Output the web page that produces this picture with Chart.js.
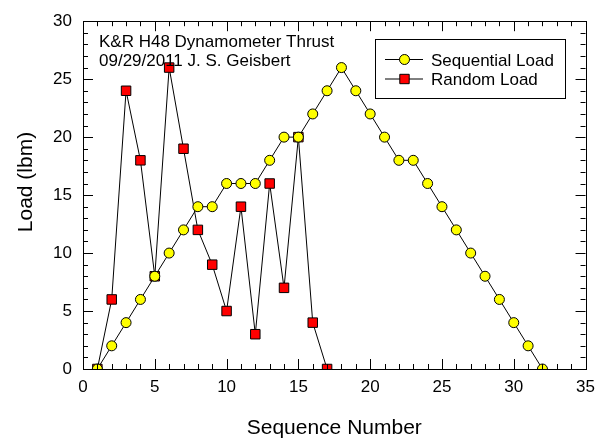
<!DOCTYPE html>
<html>
<head>
<meta charset="utf-8">
<script src="https://cdn.jsdelivr.net/npm/chart.js@4"></script>
<style>
  html, body { margin: 0; padding: 0; background: #fff; }
  #wrap { width: 603px; height: 441px; }
</style>
</head>
<body>
<div id="wrap"><canvas id="moncanvas"></canvas></div>
<script>
const seqX = [1, 2, 3, 4, 5, 6, 7, 8, 9, 10, 11, 12, 13, 14, 15, 16, 17, 18, 19, 20, 21, 22, 23, 24, 25, 26, 27, 28, 29, 30, 31, 32];
const seqLoad = [0, 2, 4, 6, 8, 10, 12, 14, 14, 16, 16, 16, 18, 20, 20, 22, 24, 26, 24, 22, 20, 18, 18, 16, 14, 12, 10, 8, 6, 4, 2, 0];
const randX = [1, 2, 3, 4, 5, 6, 7, 8, 9, 10, 11, 12, 13, 14, 15, 16, 17];
const randLoad = [0, 6, 24, 18, 8, 26, 19, 12, 9, 5, 14, 3, 16, 7, 20, 4, 0];
const noteLines = ['K&R H48 Dynamometer Thrust', '09/29/2011 J. S. Geisbert'];
const yTitle = 'Load (lbm)';

const police = '"Liberation Sans", Arial, sans-serif';

function pts(xs, ys) {
    const out = [];
    for (let i = 0; i < xs.length; i++) out.push({ x: xs[i], y: ys[i] });
    return out;
}

const data = {
    datasets: [{
        label: 'Sequential Load',
        data: pts(seqX, seqLoad),
        showLine: true,
        borderColor: '#000',
        borderWidth: 1,
        backgroundColor: '#ffff00',
        pointBackgroundColor: '#ffff00',
        pointBorderColor: '#000',
        pointBorderWidth: 1,
        pointRadius: 5,
        pointStyle: 'circle'
    }, {
        label: 'Random Load',
        data: pts(randX, randLoad),
        showLine: true,
        borderColor: '#000',
        borderWidth: 1,
        backgroundColor: '#ff0000',
        pointBackgroundColor: '#ff0000',
        pointBorderColor: '#000',
        pointBorderWidth: 1,
        pointRadius: 6.7,
        pointStyle: 'rect'
    }]
};

// inward ticks on all four sides, frame, y title, note and legend box
const decor = {
    id: 'decor',
    afterDraw(chart) {
        const ctx = chart.ctx;
        const a = chart.chartArea;
        const sx = chart.scales.x, sy = chart.scales.y;
        ctx.save();
        ctx.strokeStyle = '#000';
        ctx.lineWidth = 1;
        ctx.strokeRect(Math.round(a.left) + 0.5, Math.round(a.top) + 0.5, Math.round(a.right - a.left), Math.round(a.bottom - a.top));
        ctx.beginPath();
        for (let v = 0; v <= 35; v++) {
            const len = v % 5 === 0 ? 10 : 5;
            const px = Math.round(sx.getPixelForValue(v)) + 0.5;
            ctx.moveTo(px, a.bottom); ctx.lineTo(px, a.bottom - len);
            ctx.moveTo(px, a.top); ctx.lineTo(px, a.top + len);
        }
        for (let v = 0; v <= 30; v++) {
            const len = v % 5 === 0 ? 10 : 5;
            const py = Math.round(sy.getPixelForValue(v)) + 0.5;
            ctx.moveTo(a.left, py); ctx.lineTo(a.left + len, py);
            ctx.moveTo(a.right, py); ctx.lineTo(a.right - len, py);
        }
        ctx.stroke();

        ctx.fillStyle = '#000';
        // y title
        ctx.save();
        ctx.translate(26, 182);
        ctx.rotate(-Math.PI / 2);
        ctx.font = '21px ' + police;
        ctx.textAlign = 'center';
        ctx.textBaseline = 'middle';
        ctx.fillText(yTitle, 0, 0);
        ctx.restore();

        // note
        ctx.font = '17px ' + police;
        ctx.textAlign = 'left';
        ctx.textBaseline = 'alphabetic';
        ctx.fillText(noteLines[0], 99, 47);
        ctx.fillText(noteLines[1], 99, 66);

        // legend
        const bx = 375.5, by = 39.5, bw = 190, bh = 59;
        ctx.fillStyle = '#fff';
        ctx.fillRect(bx, by, bw, bh);
        ctx.strokeRect(bx, by, bw, bh);
        chart.data.datasets.forEach((ds, i) => {
            const y = 59.5 + i * 19.5;
            ctx.beginPath();
            ctx.moveTo(385, y); ctx.lineTo(423, y);
            ctx.stroke();
            ctx.fillStyle = ds.pointBackgroundColor;
            ctx.beginPath();
            if (ds.pointStyle === 'circle') {
                ctx.arc(404.5, y, 5, 0, Math.PI * 2);
            } else {
                ctx.rect(404.5 - 4.7, y - 4.7, 9.4, 9.4);
            }
            ctx.fill();
            ctx.stroke();
            ctx.fillStyle = '#000';
            ctx.font = '17px ' + police;
            ctx.fillText(ds.label, 431, y + 6);
        });
        ctx.restore();
    }
};

const config = {
    type: 'scatter',
    data: data,
    options: {
        responsive: true,
        maintainAspectRatio: false,
        animation: false,
        layout: { padding: { top: 17, right: 17, left: 0, bottom: 0 } },
        plugins: { legend: { display: false }, tooltip: { enabled: false } },
        scales: {
            x: {
                type: 'linear',
                min: 0, max: 35,
                afterFit(s) { s.height = 72; },
                grid: { display: false, drawTicks: false },
                border: { display: false },
                ticks: { stepSize: 5, color: '#000', padding: 8, font: { family: police, size: 17 } },
                title: { display: true, text: 'Sequence Number', color: '#000', padding: 0, font: { family: police, size: 21 } }
            },
            y: {
                min: 0, max: 30,
                afterFit(s) { s.width = 83; },
                grid: { display: false, drawTicks: false },
                border: { display: false },
                ticks: { stepSize: 5, color: '#000', padding: 11, font: { family: police, size: 17 } }
            }
        }
    },
    plugins: [decor]
};

const myChart = new Chart(document.querySelector('#moncanvas'), config);
</script>
</body>
</html>
